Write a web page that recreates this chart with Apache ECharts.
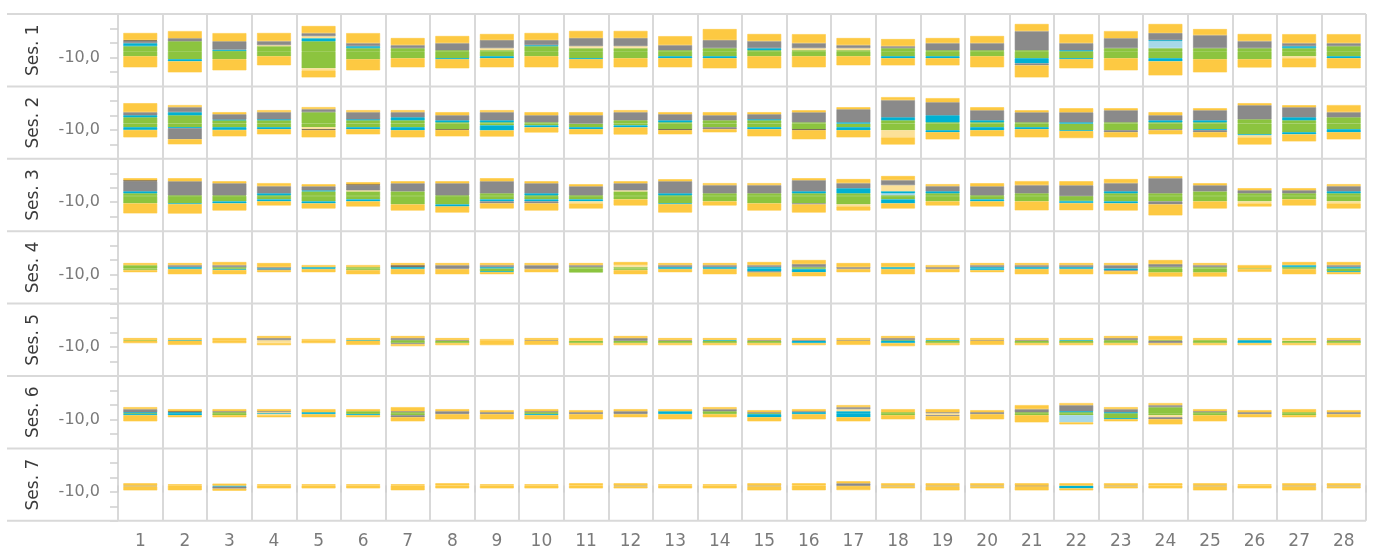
<!DOCTYPE html>
<html>
<head>
<meta charset="utf-8">
<script src="https://cdn.jsdelivr.net/npm/echarts@6/dist/echarts.min.js"></script>
<style>
html,body{margin:0;padding:0;background:#fff;}
#chart{width:1374px;height:555px;}
</style>
</head>
<body>
<div id="chart"></div>
<script>
// ---------- DATA ----------
const SESSIONS = ['Ses. 1','Ses. 2','Ses. 3','Ses. 4','Ses. 5','Ses. 6','Ses. 7'];
const DAYS = ['1','2','3','4','5','6','7','8','9','10','11','12','13','14','15','16','17','18','19','20','21','22','23','24','25','26','27','28'];
// segment keys from the baseline outward
const KEYS = ['g','l','c','y','r','d','a'];
const BASE_VALUE = -5.7;   // position of the dashed reference line on the value axis
const TICK_LABEL = -10;    // only labelled tick

// above the reference line (magnitudes)
const s1Up = [
 {g:3.5,c:2.1,r:1.6,d:0.5,a:4.9},{g:6.9,r:2.1,a:4.9},{g:0.2,c:0.9,r:5.8,a:5.6},{g:3.5,y:0.7,r:2.8,a:5.6},
 {g:6.9,c:2.1,y:1.4,r:2.1,a:4.9},{g:2.1,c:1.4,r:2.1,a:6.9},{g:2.1,r:2.1,a:4.9},{g:0.7,r:4.9,a:4.9},
 {g:0.7,y:1.4,r:5.6,a:4.2},{g:3.5,c:0.7,r:3.5,a:4.9},{g:2.1,y:1.4,r:5.6,a:4.9},{g:2.1,y:1.4,r:5.6,a:4.9},
 {g:0.7,r:3.5,a:6.2},{g:2.1,r:5.6,a:7.6},{g:0.7,c:1.4,r:4.9,a:4.9},{g:0.7,y:1.4,r:3.5,a:6.2},
 {g:0.7,y:1.4,r:2.1,a:4.9},{g:2.1,r:1.4,a:4.9},{g:0.7,r:4.9,a:3.5},{g:0.7,r:4.9,a:4.9},
 {g:0.7,r:13.2,a:4.9},{c:0.7,r:4.9,a:6.2},{g:2.1,r:6.9,a:4.9},{g:2.1,l:4.9,c:0.7,r:4.9,a:6.2},
 {g:2.1,r:9.0,a:4.2},{g:2.1,r:4.9,a:4.9},{g:2.1,c:1.4,r:2.1,a:6.2},{g:3.5,r:2.1,a:6.2}
];
const s1Dn = [
 {g:3.5,a:7.6},{g:5.6,c:1.4,a:7.6},{g:5.6,a:7.6},{g:3.5,a:6.2},
 {g:11.8,y:1.4,a:4.9},{g:5.6,a:7.6},{g:4.9,a:6.2},{g:4.9,c:0.7,a:6.2},
 {g:3.5,c:1.4,a:6.2},{g:3.5,a:7.6},{g:4.9,c:0.7,a:6.2},{g:4.9,a:6.2},
 {g:3.5,c:1.4,a:6.2},{g:3.5,c:1.4,a:6.9},{g:3.5,a:8.3},{g:3.5,a:7.6},
 {g:3.5,a:6.2},{g:3.5,c:1.4,a:4.9},{g:3.5,c:1.4,a:4.9},{g:3.5,a:7.6},
 {g:4.9,c:3.5,r:1.4,a:8.3},{g:4.9,c:0.7,a:6.2},{g:4.9,a:8.3},{g:4.9,c:2.1,a:9.7},
 {g:5.6,a:9.0},{g:5.6,a:5.6},{g:3.5,y:1.4,a:6.2},{g:3.5,c:1.4,a:6.9}
];
const s2Up = [
 {g:4.4,c:1.4,r:2.1,a:6.2},{g:5.8,c:2.1,r:3.5,a:1.4},{g:2.3,c:0.5,r:3.7,a:1.4},{g:2.3,c:0.7,r:4.9,a:1.4},
 {g:7.9,r:2.1,a:1.4},{g:2.3,c:0.7,r:4.9,a:1.4},{g:2.3,c:2.1,r:3.5,a:1.4},{g:0.9,c:1.4,r:3.5,a:2.1},
 {g:0.9,c:1.4,r:5.6,a:1.4},{g:0.9,r:4.9,a:2.1},{r:5.8,a:2.1},{g:2.3,r:5.6,a:1.4},
 {g:0.9,c:1.4,r:4.2,a:1.4},{g:2.3,r:3.5,a:2.1},{g:2.3,c:0.7,r:3.5,a:1.4},{g:0.9,r:6.9,a:1.4},
 {c:0.9,r:9.0,a:1.4},{g:2.3,c:2.1,r:11.8,a:2.1},{g:0.9,c:4.9,r:9.0,a:2.8},{g:0.9,c:1.4,r:6.9,a:2.1},
 {g:0.9,r:6.9,a:1.4},{c:0.9,r:6.9,a:2.8},{g:0.9,r:8.3,a:1.4},{g:0.9,c:1.4,r:3.5,a:2.1},
 {g:0.9,c:1.4,r:6.9,a:1.4},{g:3.0,r:9.7,a:1.4},{g:2.3,c:2.1,r:6.9,a:1.4},{g:4.4,r:3.5,a:4.9}
];
const s2Dn = [
 {g:2.5,c:1.9,a:5.1},{g:2.5,c:0.7,r:7.6,a:3.5},{g:2.5,c:1.9,a:4.4},{g:2.5,c:1.4,a:3.5},
 {g:2.5,y:1.4,d:0.7,a:4.9},{g:2.5,c:1.4,a:3.5},{g:2.5,c:2.1,a:4.9},{g:3.9,d:0.5,a:4.4},
 {g:1.2,c:3.5,a:4.2},{g:1.2,c:1.4,a:3.5},{g:2.5,c:1.4,a:3.5},{g:1.2,c:1.4,a:4.9},
 {g:3.9,d:0.7,a:2.8},{g:2.5,r:1.4,a:2.1},{g:2.5,c:1.4,a:4.9},{g:3.9,d:0.7,a:6.2},
 {g:2.5,c:2.1,a:4.9},{g:4.6,y:4.9,a:4.9},{g:4.6,c:1.4,a:4.9},{g:2.5,c:2.1,a:4.2},
 {g:2.5,c:1.4,a:5.6},{g:4.6,c:0.5,a:4.9},{g:4.6,r:1.4,a:3.5},{g:3.9,r:0.7,a:2.8},
 {g:3.9,c:0.7,r:1.4,a:3.5},{g:7.4,c:0.7,y:1.4,a:4.9},{g:6.0,c:1.4,a:4.9},{g:3.9,c:2.1,a:4.9}
];
const s3Up = [
 {g:1.9,c:1.4,r:6.9,d:0.7,a:1.4},{g:0.5,r:9.7,a:2.1},{g:0.5,r:8.3,a:1.4},{g:0.5,c:1.4,r:4.9,a:2.1},
 {g:3.2,c:0.7,r:2.8,a:1.4},{g:3.2,y:0.7,r:3.5,d:0.7,a:1.4},{g:3.2,r:5.6,a:1.4},{g:0.5,r:8.3,a:1.4},
 {g:1.9,r:8.3,a:2.1},{g:0.5,c:1.4,r:6.9,a:1.4},{g:0.5,r:6.2,a:1.4},{g:3.2,y:0.7,r:4.9,a:1.4},
 {g:0.5,c:1.4,r:8.3,a:1.4},{g:1.9,r:5.6,a:1.4},{g:1.9,r:5.6,a:1.4},{g:1.9,c:1.4,r:7.6,a:1.4},
 {g:1.9,c:3.5,r:3.5,a:2.8},{g:0.5,l:1.4,c:1.4,y:4.2,r:3.5,a:2.8},{g:1.9,c:1.4,r:3.5,a:1.4},{g:0.5,r:6.2,a:2.1},
 {g:1.9,r:5.6,a:2.8},{r:7.4,a:2.8},{g:1.9,c:1.4,r:5.6,a:2.8},{g:1.9,r:10.4,a:1.4},
 {g:3.2,r:4.2,a:1.4},{g:1.9,r:2.1,a:1.4},{g:1.9,r:2.1,a:1.4},{g:1.9,c:1.4,r:3.5,a:1.4}
];
const s3Dn = [
 {g:5.1,a:6.9},{g:5.1,c:0.5,a:6.5},{g:3.7,c:1.4,a:4.9},{g:2.3,c:1.4,a:2.8},
 {g:3.7,c:1.4,a:3.5},{g:2.3,c:1.4,a:3.5},{g:5.8,a:4.2},{g:5.8,c:1.4,a:4.2},
 {g:2.3,c:1.4,r:1.4,a:3.5},{g:2.3,c:1.4,r:1.4,a:4.9},{g:2.3,c:1.4,y:1.4,a:3.5},{g:2.3,a:4.2},
 {g:5.1,c:0.5,a:5.8},{g:3.7,a:2.8},{g:5.1,a:4.9},{g:5.1,r:0.7,a:5.6},
 {g:5.8,y:1.4,a:2.8},{g:2.3,c:2.8,a:3.5},{g:3.7,a:2.8},{g:2.3,c:1.4,a:3.5},
 {g:3.7,a:6.2},{g:3.5,c:1.4,a:4.9},{g:3.7,c:1.4,a:4.9},{g:3.7,r:2.1,a:7.6},
 {g:3.7,a:4.9},{g:3.7,y:1.4,a:2.1},{g:2.3,a:4.2},{g:3.7,y:1.4,a:3.5}
];
const s4Up = [
 {g:2.3,a:1.4},{c:0.9,r:1.4,a:1.4},{g:0.9,r:1.4,a:2.1},{r:0.9,a:2.8},
 {c:0.9,a:1.4},{g:0.9,a:1.4},{c:0.9,d:1.4,a:1.4},{r:2.3,a:1.4},
 {c:0.9,r:1.4,a:1.4},{r:2.3,a:1.4},{g:0.9,r:1.4,a:1.4},{g:0.9,y:1.4,a:2.1},
 {c:0.9,r:1.4,a:1.4},{c:0.9,r:1.4,a:1.4},{c:0.9,r:1.4,a:2.1},{g:0.9,r:2.1,a:2.8},
 {r:0.9,a:2.8},{c:0.9,a:2.8},{r:0.9,a:1.4},{c:0.9,r:1.4,a:1.4},
 {c:0.9,r:1.4,a:1.4},{c:0.9,r:1.4,a:1.4},{r:2.3,a:1.4},{g:0.9,r:2.1,a:2.8},
 {g:0.9,r:1.4,a:1.4},{a:2.3},{g:0.9,c:1.4,a:2.1},{c:0.9,r:1.4,a:2.1}
];
const s4Dn = [
 {g:1.2,a:1.4},{c:0.5,a:3.5},{g:0.5,c:0.5,a:3.0},{c:0.7,r:0.5,a:1.4},
 {c:0.5,a:2.1},{g:1.2,a:2.8},{c:0.5,a:3.5},{r:0.5,a:3.5},
 {g:2.1,c:0.5,a:1.4},{r:0.5,a:2.1},{g:2.8},{g:1.2,a:2.8},
 {c:0.5,a:2.1},{c:0.5,a:3.5},{c:2.1,r:0.7,a:2.8},{g:0.5,c:2.1,a:2.8},
 {r:0.5,a:2.1},{c:0.5,a:3.5},{r:0.5,a:2.1},{c:1.2,a:1.4},
 {c:0.5,a:3.5},{c:0.5,a:3.5},{c:1.4,r:0.5,a:2.1},{g:2.8,a:2.8},
 {g:2.8,a:2.8},{g:0.5,a:1.9},{g:0.5,a:3.5},{g:2.1,c:0.5,a:1.4}
];
const s5Up = [
 {g:0.5,a:1.4},{c:0.5,a:1.4},{a:1.9},{y:0.5,r:1.4,a:1.4},
 {a:1.2},{c:0.5,a:1.4},{g:0.5,r:1.4,a:1.4},{r:0.5,a:1.4},
 {a:1.2},{r:0.5,a:1.4},{a:1.9},{r:1.9,a:1.4},
 {r:0.5,a:1.4},{c:0.5,a:1.4},{r:0.5,a:1.4},{r:0.5,a:1.4},
 {r:0.5,a:1.4},{g:0.5,r:1.4,a:1.4},{c:0.5,a:1.4},{r:0.5,a:1.4},
 {r:0.5,a:1.4},{c:0.5,a:1.4},{g:0.5,r:1.4,a:1.4},{g:0.5,a:2.8},
 {g:0.5,a:1.4},{c:0.5,a:1.4},{y:0.5,a:1.4},{r:0.5,a:1.4}
];
const s5Dn = [
 {a:1.6},{a:2.8},{a:1.6},{y:1.6,a:1.4},
 {a:1.6},{a:2.8},{g:1.6,r:0.7,a:1.4},{g:1.6,a:1.4},
 {a:3.0},{a:2.8},{g:1.6,a:1.4},{g:1.6,a:1.4},
 {g:1.6,a:1.4},{g:1.6,a:1.4},{g:1.6,a:1.4},{c:1.6,a:1.4},
 {a:2.8},{c:1.6,a:2.1},{g:1.6,a:1.4},{a:2.8},
 {g:1.6,a:1.4},{g:1.6,a:1.4},{g:1.6,a:1.4},{r:1.6,a:1.4},
 {g:1.6,a:1.4},{c:1.6,a:1.4},{g:1.6,a:1.4},{g:1.6,a:1.4}
];
const s6Up = [
 {c:0.7,r:2.1,a:1.4},{c:0.7,d:0.7,a:1.4},{g:0.7,r:0.7,a:1.4},{y:0.7,r:0.7,a:1.4},
 {c:0.7,a:2.1},{g:1.4,a:1.4},{g:0.7,r:0.7,a:2.8},{r:1.4,a:1.4},
 {r:0.7,a:1.4},{g:0.7,r:0.7,a:1.4},{r:0.7,a:1.4},{r:1.4,a:1.4},
 {c:1.4,a:1.4},{g:1.4,r:1.4,a:1.4},{r:0.7,a:1.4},{c:0.7,r:0.7,a:1.4},
 {c:1.4,y:1.4,r:1.4,a:1.4},{g:0.7,a:2.1},{r:0.7,a:2.1},{r:0.7,a:1.4},
 {g:0.7,r:2.1,a:2.8},{g:0.7,c:0.7,r:4.2,a:1.4},{c:0.7,r:2.1,a:1.4},{g:4.2,r:1.4,a:1.4},
 {g:0.7,r:0.7,a:1.4},{r:0.7,a:1.4},{g:0.7,a:2.1},{r:0.7,a:1.4}
];
const s6Dn = [
 {g:0.7,c:0.7,a:4.2},{c:1.4,a:1.4},{g:1.4,a:1.4},{c:0.7,y:0.7,a:1.4},
 {c:0.7,a:2.1},{g:0.7,c:0.7,a:1.4},{g:1.4,r:1.4,a:2.8},{r:0.7,a:3.5},
 {r:0.7,a:3.5},{g:0.7,c:0.7,a:2.8},{r:0.7,a:3.5},{r:0.7,a:2.1},
 {c:0.7,a:3.5},{g:0.7,a:2.1},{g:0.7,c:2.1,a:2.8},{c:0.7,a:3.5},
 {c:2.8,a:2.8},{g:1.4,a:2.8},{y:1.4,r:0.7,a:2.8},{r:0.7,a:3.5},
 {g:1.4,a:4.9},{g:1.4,l:4.9,a:1.4},{g:3.5,c:0.7,a:1.4},{g:1.4,y:1.4,r:1.4,a:3.5},
 {g:1.4,a:4.2},{r:0.7,a:2.1},{g:1.4,a:1.4},{r:0.7,a:2.1}
];
const s7Up = [
 {a:1.6},{a:0.9},{a:1.4},{a:0.9},{a:0.9},{a:0.9},{a:0.9},
 {a:1.6},{a:0.9},{a:0.9},{a:1.6},{a:1.6},{a:0.9},{a:0.9},
 {a:1.6},{a:1.6},{r:1.6,a:1.4},{a:1.6},{a:1.6},{a:1.6},{a:1.6},
 {a:1.6},{a:1.6},{a:1.6},{a:1.6},{a:0.9},{a:1.6},{a:1.6}
];
const s7Dn = [
 {r:0.5,a:2.8},{a:3.2},{c:0.7,r:1.4,a:1.4},{a:1.9},{a:1.9},{a:1.9},{a:3.2},
 {a:1.9},{a:1.9},{a:1.9},{a:1.9},{r:0.5,a:1.4},{a:1.9},{a:1.9},
 {r:0.5,a:2.8},{a:3.2},{r:0.3,a:2.8},{r:0.5,a:1.4},{r:0.5,a:2.8},{r:0.5,a:1.4},{d:0.5,a:2.8},
 {c:1.9,a:1.4},{r:0.5,a:1.4},{a:1.9},{r:0.5,a:2.8},{a:1.9},{r:0.5,a:2.8},{r:0.5,a:1.4}
];
const UP = [s1Up,s2Up,s3Up,s4Up,s5Up,s6Up,s7Up];
const DN = [s1Dn,s2Dn,s3Dn,s4Dn,s5Dn,s6Dn,s7Dn];

// ---------- STYLE / LAYOUT ----------
const COLORS = {g:'#8CC43F', l:'#A7D8E8', c:'#00B1D2', y:'#FCE198', r:'#8A8A8A', d:'#6A5A46', a:'#FDC942'};
const FONT = "'DejaVu Sans', sans-serif";
const LEFT = 118, RIGHT = 8, TOP = 14, ROW_H = 72.4, HEADER_LEFT = 7;
const LINE_COLOR = '#d9d9d9';
const AX_MIN = -30, AX_MAX = 20;

const chart = echarts.init(document.getElementById('chart'), null, {renderer:'canvas'});

const grids = [], xAxes = [], yAxes = [], series = [];
SESSIONS.forEach((name, i) => {
  const last = i === SESSIONS.length - 1;
  grids.push({left: LEFT, right: RIGHT, top: TOP + i * ROW_H, height: ROW_H});
  xAxes.push({
    type: 'category', gridIndex: i, data: DAYS, boundaryGap: true,
    axisLine: {show: false},
    axisTick: {show: last, interval: 0, length: 7, lineStyle: {color: '#cfcfcf', width: 1.5}},
    axisLabel: {show: last, interval: 0, margin: 12, fontSize: 17, color: '#7a7a7a', fontFamily: FONT},
    splitLine: {show: true, interval: 0, lineStyle: {color: LINE_COLOR, width: 2}}
  });
  // value axis for the diverging bars (0 = reference line); its only split line is the dashed reference
  yAxes.push({
    type: 'value', gridIndex: i, min: AX_MIN - BASE_VALUE, max: AX_MAX - BASE_VALUE, interval: 100,
    position: 'right',
    axisLine: {show: false}, axisTick: {show: false}, axisLabel: {show: false},
    splitLine: {show: true, showMinLine: false, showMaxLine: false,
      lineStyle: {color: '#c4c4c4', type: [4, 4], width: 2}}
  });
  // labelled value axis
  yAxes.push({
    type: 'value', gridIndex: i, min: AX_MIN, max: AX_MAX, interval: 10, position: 'left',
    axisLine: {show: false},
    axisTick: {show: true, length: 8, lineStyle: {color: '#cfcfcf', width: 1.5}},
    splitLine: {show: false},
    axisLabel: {
      margin: 18, fontSize: 16, color: '#7a7a7a', fontFamily: FONT,
      formatter: v => Math.abs(v - TICK_LABEL) < 1e-6 ? v.toFixed(1).replace('.', ',') : ''
    },
    name: name, nameLocation: 'middle', nameRotate: 90, nameGap: 76,
    nameTextStyle: {fontSize: 17, color: '#3a3a3a', fontFamily: FONT}
  });
  KEYS.forEach(k => {
    const style = {color: COLORS[k], borderColor: COLORS[k], borderWidth: 0.6};
    series.push({
      type: 'bar', name: k + ' up', xAxisIndex: i, yAxisIndex: 2 * i, stack: 'S' + i,
      barWidth: '76%', silent: true, itemStyle: style,
      data: UP[i].map(o => (o[k] ? o[k] : '-'))
    });
    series.push({
      type: 'bar', name: k + ' down', xAxisIndex: i, yAxisIndex: 2 * i, stack: 'S' + i,
      barWidth: '76%', silent: true, itemStyle: style,
      data: DN[i].map(o => (o[k] ? -o[k] : '-'))
    });
  });
});

// row separator lines spanning the header column and the plot
const graphics = [];
for (let k = 0; k <= SESSIONS.length; k++) {
  const y = TOP + k * ROW_H;
  graphics.push({type: 'line', silent: true, z: 10,
    shape: {x1: HEADER_LEFT, y1: y, x2: 1374 - RIGHT, y2: y},
    style: {stroke: LINE_COLOR, lineWidth: 2}});
}

chart.setOption({
  animation: false,
  backgroundColor: '#fff',
  grid: grids, xAxis: xAxes, yAxis: yAxes, series: series,
  graphic: graphics
});
</script>
</body>
</html>
